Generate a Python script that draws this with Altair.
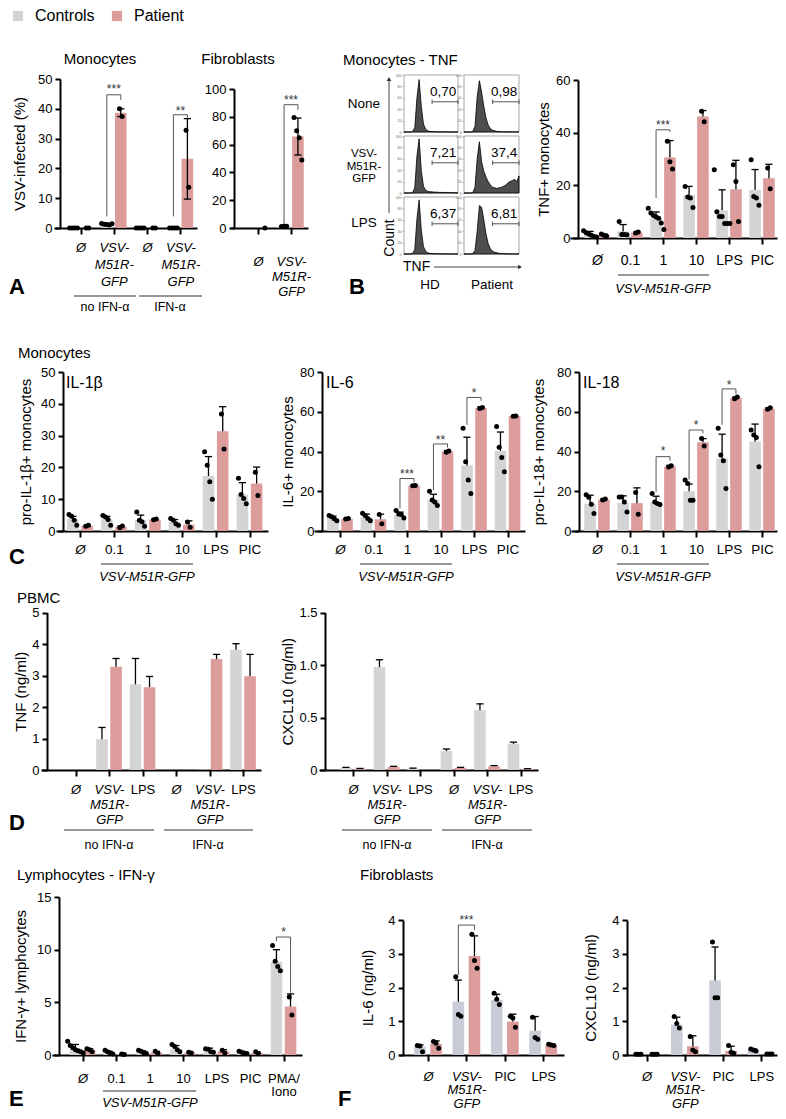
import altair as alt
import pandas as pd

# ------------------------------------------------------------------ data
A_MONO_CATS = ["Ø", "VSV-|M51R-|GFP", "Ø", "VSV-|M51R-|GFP"]
A_MONO_CTRL = [0.0, 1.3, 0.0, 0.1]
A_MONO_CTRL_SD = [0.0, 0.2, 0.0, 0.0]
A_MONO_CTRL_PTS = [[0.0, 0.0, 0.0, 0.0], [1.5, 1.3, 1.2, 1.0, 1.4], [0.0, 0.0, 0.0, 0.0], [0.0, 0.0, 0.0, 0.0]]
A_MONO_PAT = [0.0, 38.7, 0.0, 23.2]
A_MONO_PAT_SD = [0.0, 1.3, 0.0, 13.5]
A_MONO_PAT_PTS = [[0.0, 0.0], [40.0, 37.4], [0.0, 0.0], [32.8, 13.7]]

A_FIB_CATS = ["Ø", "VSV-|M51R-|GFP"]
A_FIB_CTRL = [0.0, 1.2]
A_FIB_CTRL_SD = [0.0, 0.3]
A_FIB_CTRL_PTS = [[], [1.0, 1.4, 1.2]]
A_FIB_PAT = [0.0, 65.8]
A_FIB_PAT_SD = [0.0, 13.3]
A_FIB_PAT_PTS = [[0.0], [79.5, 70.0, 65.0, 49.0]]

HIST_BINS = [0.00, 0.04, 0.08, 0.12, 0.16, 0.20, 0.24, 0.28, 0.32, 0.36, 0.40, 0.44, 0.48,
             0.52, 0.56, 0.60, 0.64, 0.68, 0.72, 0.76, 0.80, 0.84, 0.88, 0.92, 0.96, 1.00]
HIST_HD_NONE = [0, 0, 0, 0, 1, 8, 60, 92, 45, 14, 5, 2, 1, 1, 0.5, 0.5, 0.3, 0.3, 0.2, 0.2, 0.1, 0.1, 0.1, 0.1, 0, 0]
HIST_PT_NONE = [0, 0, 0, 0, 1, 10, 62, 90, 70, 45, 25, 12, 6, 3, 2, 1, 1, 0.5, 0.5, 0.3, 0.3, 0.2, 0.2, 0.1, 0.1, 0]
HIST_HD_VSV = [0, 0, 0, 0, 1, 9, 65, 95, 40, 12, 5, 3, 2, 2, 1.5, 1.5, 1.2, 1, 1, 1, 0.8, 0.8, 0.6, 0.5, 0.5, 0]
HIST_PT_VSV = [0, 0, 0, 0, 1, 10, 60, 90, 55, 38, 28, 20, 14, 10, 9, 8, 9, 10, 12, 14, 18, 20, 22, 24, 20, 30]
HIST_HD_LPS = [0, 0, 0, 0, 1, 8, 62, 95, 42, 13, 5, 2, 1, 1, 0.5, 0.5, 0.3, 0.3, 0.2, 0.2, 0.1, 0.1, 0.1, 0, 0, 0]
HIST_PT_LPS = [0, 0, 0, 0, 1, 6, 40, 85, 82, 60, 35, 18, 9, 5, 3, 2, 1, 1, 0.5, 0.5, 0.3, 0.2, 0.2, 0.1, 0.1, 0]
HIST_GATES = ["0,70", "0,98", "7,21", "37,4", "6,37", "6,81"]
HIST_ROWS = ["None", "VSV-|M51R-|GFP", "LPS"]
HIST_COLS = ["HD", "Patient"]

B_CATS = ["Ø", "0.1", "1", "10", "LPS", "PIC"]
B_CTRL = [1.4, 2.5, 7.4, 16.3, 10.5, 18.3]
B_CTRL_TOP = [2.5, 5.1, 9.9, 19.6, 18.3, 26.0]
B_CTRL_PTS = [[2.8, 2.0, 1.5, 1.0, 0.6, 0.4], [6.3, 1.3, 1.3, 1.2], [11.3, 9.5, 8.5, 8.0, 7.5, 5.7, 3.2],
              [19.6, 15.6, 15.2, 11.6], [25.9, 10.0, 8.2, 8.2, 5.5, 5.5, 5.5], [29.7, 15.8, 15.2, 12.4]]
B_PAT = [1.1, 2.0, 30.6, 46.1, 18.5, 22.7]
B_PAT_TOP = [1.5, 2.3, 37.0, 48.4, 29.5, 28.0]
B_PAT_PTS = [[1.5, 1.0, 0.8], [1.9, 2.3], [36.7, 29.0, 26.2], [48.1, 44.1], [27.8, 21.5, 6.3], [26.6, 18.7]]

C_CATS = ["Ø", "0.1", "1", "10", "LPS", "PIC"]
IL1B_CTRL = [3.75, 3.7, 3.45, 2.85, 17.3, 11.5]
IL1B_CTRL_TOP = [4.6, 4.6, 5.0, 3.6, 23.4, 15.2]
IL1B_CTRL_PTS = [[5.2, 4.6, 3.4, 1.8], [4.9, 4.4, 3.6, 1.8], [6.0, 3.4, 2.9, 1.5], [3.9, 3.4, 2.3, 1.8],
                 [24.9, 20.7, 15.5, 10.0], [16.6, 11.5, 10.2, 8.6]]
IL1B_PAT = [1.6, 1.3, 3.6, 2.0, 31.4, 14.9]
IL1B_PAT_TOP = [1.8, 1.6, 3.8, 3.2, 39.1, 20.1]
IL1B_PAT_PTS = [[1.5, 1.8], [1.0, 1.6], [3.5, 3.8], [2.8, 1.2], [36.8, 25.8], [18.5, 11.2]]

IL6_CTRL = [6.5, 7.0, 8.0, 15.6, 33.0, 40.3]
IL6_CTRL_TOP = [7.5, 8.5, 9.5, 18.5, 47.2, 49.8]
IL6_CTRL_PTS = [[7.8, 7.2, 6.2, 5.1], [8.9, 7.8, 6.3, 5.2], [10.3, 8.5, 8.3, 6.5], [20.0, 15.6, 14.6, 12.8],
                [51.7, 34.8, 25.6, 18.9], [52.6, 42.1, 37.0, 29.8]]
IL6_PAT = [6.1, 5.9, 22.9, 40.0, 61.9, 57.8]
IL6_PAT_TOP = [6.3, 8.5, 23.1, 40.5, 62.5, 58.0]
IL6_PAT_PTS = [[6.0, 6.3], [8.3, 3.6], [22.8, 22.9], [39.6, 40.3], [61.6, 62.2], [57.7, 57.9]]

IL18_CTRL = [13.7, 14.1, 14.6, 20.0, 36.5, 45.0]
IL18_CTRL_TOP = [18.0, 17.7, 17.5, 23.6, 48.7, 53.8]
IL18_CTRL_PTS = [[18.2, 17.0, 13.4, 8.8], [17.1, 17.1, 14.6, 9.6], [18.9, 14.6, 13.8, 13.3], [25.6, 23.9, 15.5, 15.5],
                 [51.7, 38.2, 35.4, 21.4], [50.8, 48.3, 47.1, 32.3]]
IL18_PAT = [15.8, 14.0, 32.5, 44.6, 67.0, 61.5]
IL18_PAT_TOP = [16.2, 21.7, 33.0, 46.5, 67.5, 62.0]
IL18_PAT_PTS = [[15.6, 16.1], [19.4, 8.4], [32.2, 32.8], [46.6, 42.8], [66.6, 67.4], [61.2, 62.0]]

D_CATS = ["Ø", "VSV-|M51R-|GFP", "LPS", "Ø", "VSV-|M51R-|GFP", "LPS"]
D_TNF_CTRL = [0.0, 0.98, 2.72, 0.0, 0.01, 3.82]
D_TNF_CTRL_TOP = [0.0, 1.35, 3.54, 0.0, 0.01, 4.01]
D_TNF_PAT = [0.0, 3.28, 2.63, 0.0, 3.52, 2.98]
D_TNF_PAT_TOP = [0.0, 3.54, 2.97, 0.0, 3.67, 3.67]
D_CXCL_CTRL = [0.02, 0.98, 0.015, 0.18, 0.57, 0.25]
D_CXCL_CTRL_TOP = [0.025, 1.05, 0.018, 0.20, 0.63, 0.265]
D_CXCL_PAT = [0.012, 0.03, 0.0, 0.02, 0.035, 0.01]
D_CXCL_PAT_TOP = [0.015, 0.035, 0.0, 0.025, 0.042, 0.012]

E_CATS = ["Ø", "0.1", "1", "10", "LPS", "PIC", "PMA/|Iono"]
E_CTRL = [0.6, 0.25, 0.3, 0.55, 0.45, 0.25, 8.85]
E_CTRL_TOP = [1.0, 0.35, 0.4, 0.9, 0.65, 0.3, 10.0]
E_CTRL_PTS = [[1.3, 0.9, 0.7, 0.5, 0.4, 0.3, 0.2], [0.45, 0.3, 0.2, 0.1], [0.45, 0.35, 0.2, 0.15],
              [1.0, 0.8, 0.5, 0.3], [0.6, 0.55, 0.3, 0.25], [0.35, 0.25, 0.2, 0.15], [10.4, 8.9, 8.4, 8.0]]
E_PAT = [0.5, 0.08, 0.25, 0.2, 0.35, 0.2, 4.6]
E_PAT_TOP = [0.6, 0.1, 0.35, 0.25, 0.5, 0.3, 5.8]
E_PAT_PTS = [[0.6, 0.5, 0.3], [0.1, 0.05], [0.35, 0.15], [0.25, 0.2], [0.45, 0.2], [0.3, 0.15], [5.5, 3.8]]

F_CATS = ["Ø", "VSV-|M51R-|GFP", "PIC", "LPS"]
F_IL6_CTRL = [0.25, 1.58, 1.63, 0.72]
F_IL6_CTRL_TOP = [0.3, 2.22, 1.8, 1.14]
F_IL6_CTRL_PTS = [[0.28, 0.27, 0.1], [2.32, 1.2, 1.15], [1.83, 1.65, 1.5], [1.12, 0.52, 0.47]]
F_IL6_PAT = [0.33, 2.93, 0.99, 0.28]
F_IL6_PAT_TOP = [0.42, 3.53, 1.21, 0.32]
F_IL6_PAT_PTS = [[0.4, 0.35, 0.2], [3.58, 2.8, 2.57], [1.15, 1.1, 0.82], [0.32, 0.3, 0.28]]
F_CXCL_CTRL = [0.02, 0.9, 2.21, 0.15]
F_CXCL_CTRL_TOP = [0.02, 1.12, 3.2, 0.18]
F_CXCL_CTRL_PTS = [[0.02, 0.02, 0.02], [1.14, 0.93, 0.8], [3.35, 1.7, 1.7], [0.18, 0.15, 0.12]]
F_CXCL_PAT = [0.02, 0.26, 0.12, 0.03]
F_CXCL_PAT_TOP = [0.02, 0.57, 0.26, 0.03]
F_CXCL_PAT_PTS = [[0.02, 0.02, 0.02], [0.55, 0.15, 0.1], [0.28, 0.08, 0.05], [0.03, 0.03, 0.03]]

# significance: (category index, left leg bottom, right leg bottom, top, text, text level)
SIG_A_MONO = [(1, 3.9, 43.0, 44.7, "***", 47.3), (3, 3.9, 36.6, 38.0, "**", 40.0)]
SIG_A_FIB = [(1, 3.6, 85.0, 88.7, "***", 93.5)]
SIG_B = [(2, 15.2, 40.3, 41.1, "***", 43.7)]
SIG_IL6 = [(2, 11.3, 24.5, 26.4, "***", 29.5), (3, 20.5, 42.0, 43.8, "**", 47.0), (4, 53.4, 65.5, 67.2, "*", 70.2)]
SIG_IL18 = [(2, 19.7, 35.4, 37.4, "*", 41.2), (3, 25.9, 49.2, 50.8, "*", 54.5), (4, 53.4, 69.0, 71.5, "*", 74.7)]
SIG_E = [(6, 10.8, 5.9, 11.2, "*", 11.9)]
SIG_F = [(1, 2.37, 3.7, 3.85, "***", 4.05)]

# ------------------------------------------------------------------ layout / style
W, H = 770, 1103
GRAY, PINK, FGRAY = "#d4d4d4", "#dc9c9c", "#c8ccd6"
FONT = "Liberation Sans"
OFFS = 0.21


def cx(p):
    return p - 8


def cy(p):
    return p - 8


# ax: y-axis x, xl: left end of x-axis line, first: first category x, step: category spacing,
# end: right end of x-axis line, y0: baseline y, ytop: y of ymax (all in page pixels)
GEO = {
    "a_mono": dict(ax=60, xl=54, first=80.5, step=33.3, end=197, y0=228, ytop=79, ymax=50, ticks=[0, 10, 20, 30, 40, 50]),
    "a_fib": dict(ax=234, xl=230, first=258, step=33, end=308, y0=228, ytop=89, ymax=100, ticks=[0, 20, 40, 60, 80, 100]),
    "b_tnf": dict(ax=578, xl=570, first=597, step=33, end=777, y0=238, ytop=80, ymax=60, ticks=[0, 20, 40, 60]),
    "c_il1b": dict(ax=63, xl=56, first=80, step=33.9, end=268, y0=531, ytop=372, ymax=50, ticks=[0, 10, 20, 30, 40, 50]),
    "c_il6": dict(ax=322, xl=314, first=340, step=33.5, end=525, y0=531, ytop=372, ymax=80, ticks=[0, 20, 40, 60, 80]),
    "c_il18": dict(ax=579, xl=571, first=597, step=33, end=777, y0=531, ytop=372, ymax=80, ticks=[0, 20, 40, 60, 80]),
    "d_tnf": dict(ax=47, xl=41, first=75.5, step=33.5, end=261, y0=770, ytop=612.5, ymax=5, ticks=[0, 1, 2, 3, 4, 5]),
    "d_cxcl": dict(ax=325, xl=319, first=353, step=33.5, end=538, y0=770, ytop=612.5, ymax=1.5, ticks=[0, 0.5, 1.0, 1.5]),
    "e_ifng": dict(ax=59, xl=52, first=82.5, step=33.5, end=302, y0=1055, ytop=897, ymax=15, ticks=[0, 5, 10, 15]),
    "f_il6": dict(ax=403, xl=399, first=428, step=38.4, end=564, y0=1055, ytop=920, ymax=4, ticks=[0, 1, 2, 3, 4]),
    "f_cxcl": dict(ax=627, xl=623, first=646.5, step=38.3, end=777, y0=1055, ytop=920, ymax=4, ticks=[0, 1, 2, 3, 4]),
}

LAB = {
    "a_mono": dict(size=13, pad=7, lh=17, italic=[0, 1, 2, 3], title="VSV-infected (%)", tx=-41),
    "a_fib": dict(size=13, pad=21, lh=15, italic=[0, 1], title=None, tx=0),
    "b_tnf": dict(size=14, pad=9, lh=15, italic=[0], title="TNF+ monocytes", tx=-35),
    "c_il1b": dict(size=13.5, pad=5, lh=15, italic=[0], title="pro-IL-1β+ monocytes", tx=-38),
    "c_il6": dict(size=13.5, pad=5, lh=15, italic=[0], title="IL-6+ monocytes", tx=-35),
    "c_il18": dict(size=13.5, pad=5, lh=15, italic=[0], title="pro-IL-18+ monocytes", tx=-41),
    "d_tnf": dict(size=13, pad=7, lh=15, italic=[0, 1, 3, 4], title="TNF (ng/ml)", tx=-27),
    "d_cxcl": dict(size=13, pad=7, lh=15, italic=[0, 1, 3, 4], title="CXCL10 (ng/ml)", tx=-38),
    "e_ifng": dict(size=13, pad=11, lh=13, italic=[0], title="IFN-γ+ lymphocytes", tx=-39),
    "f_il6": dict(size=13, pad=9, lh=13.5, italic=[0, 1], title="IL-6 (ng/ml)", tx=-36),
    "f_cxcl": dict(size=13, pad=9, lh=13.5, italic=[0, 1], title="CXCL10 (ng/ml)", tx=-37),
}


def bar_panel(key, cats, cm, ct, cpts, pm, pt, ppts, sig=(), cb=None, pb=None, legend=False, cgray=GRAY,
              ylabel_expr=None):
    g, lab = GEO[key], LAB[key]
    n, st = len(cats), g["step"]
    a = -(g["first"] - g["xl"]) / st
    b = (g["end"] - g["first"]) / st
    xs = alt.Scale(domain=[a, b], range=[cx(g["xl"]), cx(g["end"])], nice=False, zero=False)
    ys = alt.Scale(domain=[0, g["ymax"]], range=[cy(g["y0"]), cy(g["ytop"])], nice=False, zero=False)
    hw, cap, dsp = 5.8 / st, 3.6 / st, 2.6 / st
    rows, dots = [], []
    for i in range(n):
        for grp, m, t, pts, bot, sgn in (
            ("Controls", cm[i], ct[i], cpts[i] if cpts else [], cb[i] if cb else None, -1),
            ("Patient", pm[i], pt[i], ppts[i] if ppts else [], pb[i] if pb else None, 1),
        ):
            pos = i + sgn * OFFS
            rows.append(dict(group=grp, x1=pos - hw, x2=pos + hw, pos=pos, cl=pos - cap, cr=pos + cap,
                             mean=m, top=t, bot=(m if bot is None else bot), zero=0.0))
            k = len(pts)
            for j, v in enumerate(pts):
                dots.append(dict(dx=pos + (j - (k - 1) / 2) * dsp, v=v))
    df = pd.DataFrame(rows)
    test = "indexof(%s, datum.value) >= 0" % str(lab["italic"])
    xaxis = alt.Axis(
        orient="bottom", offset=cy(g["y0"]) - H, values=list(range(n)),
        labelExpr="split(%s[datum.value], '|')" % str(list(cats)).replace('"', "'"),
        title=None, tickSize=6, tickWidth=2, domainWidth=2, labelFontSize=lab["size"],
        labelPadding=lab["pad"], labelLineHeight=lab["lh"], labelAngle=0,
        labelFontStyle={"condition": {"test": test, "value": "italic"}, "value": "normal"},
        labelOverlap=False, labelFlush=False, grid=False,
    )
    yargs = dict(orient="left", offset=-cx(g["ax"]), values=g["ticks"], tickSize=5, tickWidth=2,
                 domainWidth=2, labelFontSize=13, labelPadding=3, grid=False, labelOverlap=False,
                 labelFlush=False)
    if ylabel_expr:
        yargs["labelExpr"] = ylabel_expr
    if lab["title"]:
        yargs.update(title=lab["title"], titleX=lab["tx"], titleBaseline="middle", titleFontSize=15,
                     titleFontWeight="normal", titleAngle=270)
    else:
        yargs["title"] = None
    yaxis = alt.Axis(**yargs)
    if legend:
        color = alt.Color("group:N", scale=alt.Scale(domain=["Controls", "Patient"], range=[GRAY, PINK]),
                          legend=alt.Legend(title=None, orient="none", legendX=2, legendY=0, direction="horizontal",
                                            symbolType="square", symbolSize=105, symbolStrokeWidth=0,
                                            labelFontSize=16, labelOffset=9, columnPadding=14, padding=0))
    else:
        color = alt.condition("datum.group == 'Controls'", alt.value(cgray), alt.value(PINK))
    bars = alt.Chart(df).mark_bar().encode(
        x=alt.X("x1:Q", scale=xs, axis=xaxis), x2="x2:Q",
        y=alt.Y("mean:Q", scale=ys, axis=yaxis), y2="zero:Q", color=color)
    layers = [bars]
    err = alt.Chart(df).transform_filter("datum.top > datum.bot").mark_rule(color="black", strokeWidth=1.3).encode(
        x=alt.X("pos:Q", scale=xs, axis=None), y=alt.Y("bot:Q", scale=ys, axis=None), y2="top:Q")
    capt = alt.Chart(df).transform_filter("datum.top > datum.mean").mark_rule(color="black", strokeWidth=1.3).encode(
        x=alt.X("cl:Q", scale=xs, axis=None), x2="cr:Q", y=alt.Y("top:Q", scale=ys, axis=None))
    layers += [err, capt]
    if cb or pb:
        capb = alt.Chart(df).transform_filter("datum.bot < datum.mean").mark_rule(color="black", strokeWidth=1.3).encode(
            x=alt.X("cl:Q", scale=xs, axis=None), x2="cr:Q", y=alt.Y("bot:Q", scale=ys, axis=None))
        layers.append(capb)
    if dots:
        pts = alt.Chart(pd.DataFrame(dots)).mark_circle(color="black", opacity=1, size=25).encode(
            x=alt.X("dx:Q", scale=xs, axis=None), y=alt.Y("v:Q", scale=ys, axis=None))
        layers.append(pts)
    if sig:
        segs, stars = [], []
        for (i, lb, rb, top, txt, ty) in sig:
            xl, xr = i - OFFS, i + OFFS
            segs += [dict(x=xl, x2=xl, y=lb, y2=top), dict(x=xl, x2=xr, y=top, y2=top), dict(x=xr, x2=xr, y=rb, y2=top)]
            stars.append(dict(x=i, y=ty, t=txt))
        br = alt.Chart(pd.DataFrame(segs)).mark_rule(color="#555555", strokeWidth=1).encode(
            x=alt.X("x:Q", scale=xs, axis=None), x2="x2:Q", y=alt.Y("y:Q", scale=ys, axis=None), y2="y2:Q")
        st_ = alt.Chart(pd.DataFrame(stars)).mark_text(fontSize=12, baseline="alphabetic", dy=6, color="#333333").encode(
            x=alt.X("x:Q", scale=xs, axis=None), y=alt.Y("y:Q", scale=ys, axis=None), text="t:N")
        layers += [br, st_]
    return layers


HBOX_X = [(404, 458), (464, 519)]
HBOX_Y = [(75, 132), (136, 193), (197, 254)]


def hist_panel(vals, col, row, gate):
    x0, x1 = HBOX_X[col]
    y0, y1 = HBOX_Y[row]
    xs = alt.Scale(domain=[0, 1], range=[cx(x0), cx(x1)], nice=False, zero=False)
    ys = alt.Scale(domain=[0, 100], range=[cy(y1), cy(y0)], nice=False, zero=False)
    df = pd.DataFrame(dict(b=HIST_BINS, c=vals))
    frame = alt.Chart(pd.DataFrame([dict(a=0, b=1, c=0, d=100)])).mark_rect(
        fillOpacity=0, stroke="#a8a8a8", strokeWidth=1).encode(
        x=alt.X("a:Q", scale=xs, axis=None), x2="b:Q", y=alt.Y("c:Q", scale=ys, axis=None), y2="d:Q")
    area = alt.Chart(df).mark_area(color="#4d4d4d", stroke="black", strokeWidth=0.8).encode(
        x=alt.X("b:Q", scale=xs, axis=None),
        y=alt.Y("c:Q", scale=ys, axis=alt.Axis(orient="left", offset=-cx(x0), values=[0, 20, 40, 60, 80, 100],
                                                 labelFontSize=3.5, tickSize=2, tickWidth=0.6, domain=False,
                                                 labelPadding=1, title=None, grid=False, labelColor="#666666",
                                                 tickColor="#888888")))
    gl = alt.Chart(pd.DataFrame([dict(a=0.52, b=1.0, y=53)])).mark_rule(color="#555555", strokeWidth=1).encode(
        x=alt.X("a:Q", scale=xs, axis=None), x2="b:Q", y=alt.Y("y:Q", scale=ys, axis=None))
    gt = alt.Chart(pd.DataFrame([dict(a=0.52, y=49, y2=57), dict(a=1.0, y=49, y2=57)])).mark_rule(
        color="#555555", strokeWidth=1).encode(
        x=alt.X("a:Q", scale=xs, axis=None), y=alt.Y("y:Q", scale=ys, axis=None), y2="y2:Q")
    tx = alt.Chart(pd.DataFrame([dict(a=0.97, y=70, t=gate)])).mark_text(
        fontSize=13.5, align="right", baseline="middle").encode(
        x=alt.X("a:Q", scale=xs, axis=None), y=alt.Y("y:Q", scale=ys, axis=None), text="t:N")
    return [frame, area, gl, gt, tx]


def texts(rows, **kw):
    df = pd.DataFrame([dict(x=cx(r[0]), y=cy(r[1]), t=r[2]) for r in rows])
    return alt.Chart(df).mark_text(lineBreak="|", **kw).encode(
        x=alt.X("x:Q", scale=None, axis=None), y=alt.Y("y:Q", scale=None, axis=None), text="t:N")


def hlines(rows, color="#333333", width=1):
    df = pd.DataFrame([dict(x=cx(r[0]), x2=cx(r[1]), y=cy(r[2])) for r in rows])
    return alt.Chart(df).mark_rule(color=color, strokeWidth=width).encode(
        x=alt.X("x:Q", scale=None, axis=None), x2="x2:Q", y=alt.Y("y:Q", scale=None, axis=None))


def vlines(rows, color="#333333", width=1):
    df = pd.DataFrame([dict(x=cx(r[0]), y=cy(r[1]), y2=cy(r[2])) for r in rows])
    return alt.Chart(df).mark_rule(color=color, strokeWidth=width).encode(
        x=alt.X("x:Q", scale=None, axis=None), y=alt.Y("y:Q", scale=None, axis=None), y2="y2:Q")


def marker(rows, shape):
    df = pd.DataFrame([dict(x=cx(r[0]), y=cy(r[1])) for r in rows])
    return alt.Chart(df).mark_point(shape=shape, filled=True, size=22, color="#333333", opacity=1).encode(
        x=alt.X("x:Q", scale=None, axis=None), y=alt.Y("y:Q", scale=None, axis=None))


def plus_sd(m, s):
    return [a + b for a, b in zip(m, s)]


def minus_sd(m, s):
    return [a - b for a, b in zip(m, s)]


layers = []
layers += bar_panel("a_mono", A_MONO_CATS, A_MONO_CTRL, plus_sd(A_MONO_CTRL, A_MONO_CTRL_SD), A_MONO_CTRL_PTS,
                    A_MONO_PAT, plus_sd(A_MONO_PAT, A_MONO_PAT_SD), A_MONO_PAT_PTS, SIG_A_MONO,
                    cb=minus_sd(A_MONO_CTRL, A_MONO_CTRL_SD), pb=minus_sd(A_MONO_PAT, A_MONO_PAT_SD), legend=True)
layers += bar_panel("a_fib", A_FIB_CATS, A_FIB_CTRL, plus_sd(A_FIB_CTRL, A_FIB_CTRL_SD), A_FIB_CTRL_PTS,
                    A_FIB_PAT, plus_sd(A_FIB_PAT, A_FIB_PAT_SD), A_FIB_PAT_PTS, SIG_A_FIB,
                    cb=minus_sd(A_FIB_CTRL, A_FIB_CTRL_SD), pb=minus_sd(A_FIB_PAT, A_FIB_PAT_SD))
layers += bar_panel("b_tnf", B_CATS, B_CTRL, B_CTRL_TOP, B_CTRL_PTS, B_PAT, B_PAT_TOP, B_PAT_PTS, SIG_B)
layers += bar_panel("c_il1b", C_CATS, IL1B_CTRL, IL1B_CTRL_TOP, IL1B_CTRL_PTS, IL1B_PAT, IL1B_PAT_TOP, IL1B_PAT_PTS)
layers += bar_panel("c_il6", C_CATS, IL6_CTRL, IL6_CTRL_TOP, IL6_CTRL_PTS, IL6_PAT, IL6_PAT_TOP, IL6_PAT_PTS, SIG_IL6)
layers += bar_panel("c_il18", C_CATS, IL18_CTRL, IL18_CTRL_TOP, IL18_CTRL_PTS, IL18_PAT, IL18_PAT_TOP, IL18_PAT_PTS,
                    SIG_IL18)
layers += bar_panel("d_tnf", D_CATS, D_TNF_CTRL, D_TNF_CTRL_TOP, None, D_TNF_PAT, D_TNF_PAT_TOP, None)
layers += bar_panel("d_cxcl", D_CATS, D_CXCL_CTRL, D_CXCL_CTRL_TOP, None, D_CXCL_PAT, D_CXCL_PAT_TOP, None,
                    ylabel_expr="datum.value == 0 ? '0' : format(datum.value, '.1f')")
layers += bar_panel("e_ifng", E_CATS, E_CTRL, E_CTRL_TOP, E_CTRL_PTS, E_PAT, E_PAT_TOP, E_PAT_PTS, SIG_E)
layers += bar_panel("f_il6", F_CATS, F_IL6_CTRL, F_IL6_CTRL_TOP, F_IL6_CTRL_PTS, F_IL6_PAT, F_IL6_PAT_TOP,
                    F_IL6_PAT_PTS, SIG_F, cgray=FGRAY)
layers += bar_panel("f_cxcl", F_CATS, F_CXCL_CTRL, F_CXCL_CTRL_TOP, F_CXCL_CTRL_PTS, F_CXCL_PAT, F_CXCL_PAT_TOP,
                    F_CXCL_PAT_PTS, cgray=FGRAY)

hists = [HIST_HD_NONE, HIST_PT_NONE, HIST_HD_VSV, HIST_PT_VSV, HIST_HD_LPS, HIST_PT_LPS]
for k, vals in enumerate(hists):
    layers += hist_panel(vals, k % 2, k // 2, HIST_GATES[k])

layers += [
    texts([(100, 59, "Monocytes"), (238, 59, "Fibroblasts")], fontSize=15, align="center", baseline="middle"),
    texts([(343, 60, "Monocytes - TNF"), (18, 353, "Monocytes"), (17, 598, "PBMC"),
           (17, 875, "Lymphocytes - IFN-γ"), (360, 875, "Fibroblasts")],
          fontSize=15, align="left", baseline="middle"),
    texts([(66, 383, "IL-1β"), (326, 383, "IL-6"), (583, 383, "IL-18")], fontSize=16, align="left",
          baseline="middle"),
    texts([(105, 307, "no IFN-α"), (170, 307, "IFN-α"), (109, 845, "no IFN-α"), (208, 845, "IFN-α"),
           (387, 845, "no IFN-α"), (487, 845, "IFN-α")], fontSize=12.5, align="center", baseline="middle"),
    texts([(663, 289, "VSV-M51R-GFP"), (147, 577, "VSV-M51R-GFP"), (406, 577, "VSV-M51R-GFP"),
           (663, 577, "VSV-M51R-GFP"), (150, 1103, "VSV-M51R-GFP")], fontSize=13, fontStyle="italic",
          align="center", baseline="middle"),
    hlines([(74, 136, 296), (139, 202, 296), (618, 709, 275), (101, 193, 564), (360, 452, 564), (617, 709, 564),
            (64, 154, 830), (164, 253, 830), (342, 432, 830), (442, 532, 830), (103, 196, 1091)]),
    texts([(9, 287, "A"), (349, 287, "B"), (9, 557, "C"), (9, 823, "D"), (9, 1099, "E"), (338, 1099, "F")],
          fontSize=22, fontWeight="bold", align="left", baseline="middle"),
    texts([(364, 104, HIST_ROWS[0]), (364, 223, HIST_ROWS[2]), (430, 285, HIST_COLS[0]), (492, 285, HIST_COLS[1])],
          fontSize=13.5, align="center", baseline="middle"),
    texts([(364, 154, HIST_ROWS[1])], fontSize=11.5, align="center", baseline="middle", lineHeight=12.5),
    texts([(403, 267, "TNF")], fontSize=14, align="left", baseline="middle"),
    texts([(390, 238, "Count")], fontSize=14, align="center", baseline="middle", angle=270),
    vlines([(389, 80, 213)], color="#444444"),
    hlines([(434, 518, 267)], color="#444444"),
    marker([(389, 79)], "triangle-up"),
    marker([(520, 267)], "triangle-right"),
]

chart = alt.layer(*layers).resolve_scale(x="independent", y="independent").properties(
    width=W, height=H, autosize=alt.AutoSizeParams(type="none"), padding=0
).configure(font=FONT).configure_view(stroke=None).configure_axis(
    domainColor="black", tickColor="black", labelColor="black", titleColor="black", grid=False
).configure_legend(labelFont=FONT)

chart.save("out.html", embed_options={"renderer": "svg", "actions": False})
